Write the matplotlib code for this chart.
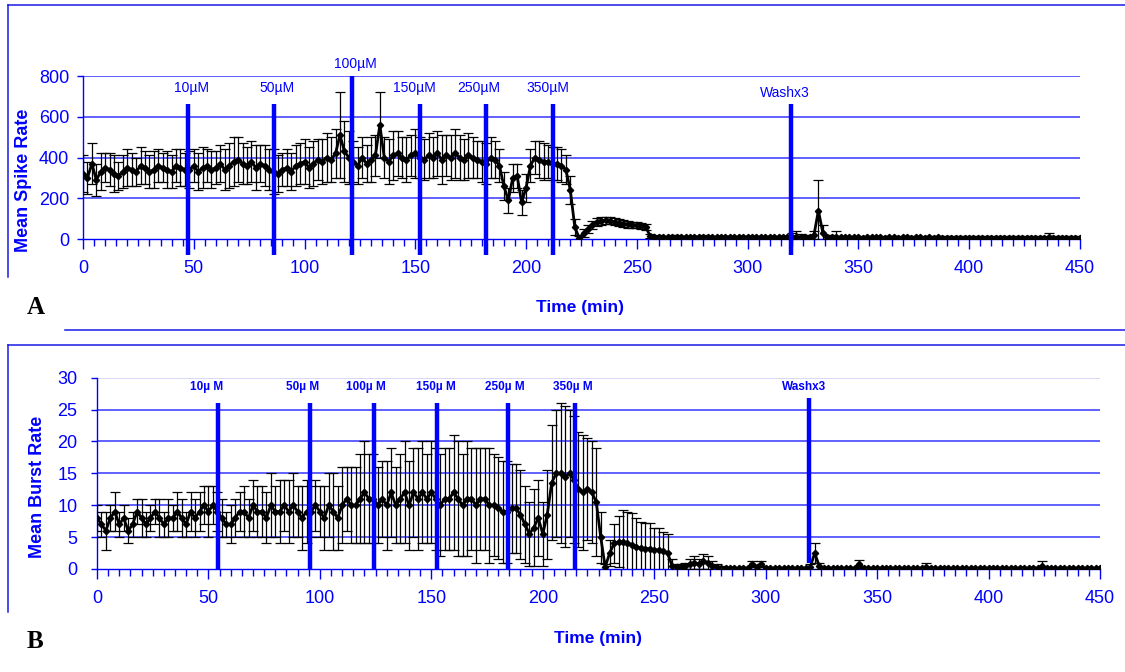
import numpy as np
import matplotlib.pyplot as plt
from matplotlib.lines import Line2D
from matplotlib.ticker import MultipleLocator

plt.rcParams['font.family'] = ['Liberation Sans', 'DejaVu Sans']

BLUE = '#0000ff'
GRID = '#3636ff'

# sampling every 2 min, 0..450
time = np.arange(0, 451, 2)

# mean spike rate (rows of 10 samples = 20 min)
spike_mean = [
    320, 300, 370, 290, 330, 350, 340, 320, 310, 330,
    350, 340, 330, 360, 350, 330, 340, 360, 350, 340,
    330, 360, 350, 340, 340, 360, 330, 350, 360, 340,
    350, 370, 340, 360, 380, 390, 370, 360, 380, 350,
    370, 360, 340, 330, 320, 340, 350, 330, 360, 370,
    380, 350, 370, 390, 380, 400, 390, 420, 510, 430,
    400, 380, 360, 400, 370, 390, 410, 560, 400, 380,
    410, 420, 400, 390, 410, 420, 400, 390, 410, 400,
    420, 390, 410, 400, 420, 400, 390, 410, 400, 390,
    380, 370, 400, 390, 360, 260, 190, 300, 310, 180,
    250, 360, 400, 390, 380, 380, 370, 370, 360, 340,
    240, 60, 5, 30, 50, 70, 85, 90, 92, 90,
    85, 80, 75, 72, 70, 68, 65, 60, 15, 10,
    12, 10, 8, 10, 12, 10, 10, 8, 10, 10,
    12, 10, 10, 8, 10, 10, 10, 8, 10, 10,
    10, 8, 10, 10, 8, 10, 10, 8, 10, 10,
    10, 12, 10, 8, 10, 20, 140, 30, 10, 8,
    12, 8, 8, 9, 8, 8, 7, 8, 8, 8,
    8, 7, 8, 8, 7, 8, 8, 7, 8, 8,
    7, 8, 7, 8, 6, 5, 5, 4, 5, 5,
    5, 4, 5, 5, 4, 5, 5, 4, 5, 5,
    5, 4, 5, 5, 6, 5, 5, 6, 8, 5,
    5, 6, 5, 5, 6, 5,
]
spike_err = [
    90, 80, 100, 80, 90, 70, 80, 90, 70, 80,
    90, 80, 70, 90, 80, 80, 90, 80, 70, 90,
    80, 80, 90, 80, 90, 80, 90, 100, 80, 90,
    80, 90, 100, 110, 120, 110, 100, 90, 100, 110,
    90, 100, 100, 110, 90, 80, 90, 90, 100, 100,
    110, 100, 110, 100, 110, 120, 110, 120, 210, 150,
    130, 100, 90, 100, 90, 110, 100, 160, 100, 110,
    120, 110, 100, 110, 100, 120, 100, 100, 110, 100,
    110, 120, 100, 110, 120, 110, 100, 110, 100, 90,
    100, 100, 100, 90, 80, 70, 60, 70, 60, 60,
    70, 80, 80, 90, 90, 80, 80, 80, 80, 70,
    70, 40, 10, 20, 20, 20, 20, 20, 18, 18,
    18, 16, 16, 16, 15, 15, 14, 14, 8, 6,
    6, 7, 6, 8, 6, 7, 6, 6, 7, 6,
    6, 7, 6, 6, 7, 6, 6, 6, 7, 6,
    6, 6, 7, 6, 6, 7, 6, 6, 7, 6,
    20, 25, 15, 10, 10, 20, 150, 40, 10, 10,
    25, 8, 8, 8, 8, 8, 8, 8, 8, 8,
    8, 8, 8, 8, 8, 8, 8, 8, 8, 8,
    8, 8, 8, 8, 10, 10, 10, 10, 10, 10,
    10, 10, 10, 10, 10, 10, 10, 10, 10, 10,
    10, 10, 10, 10, 10, 10, 10, 10, 20, 10,
    10, 10, 8, 8, 8, 8,
]

# mean burst rate
burst_mean = [
    8, 7, 6, 8, 9, 7, 8, 6, 7, 9,
    8, 7, 8, 9, 8, 7, 8, 8, 9, 8,
    7, 9, 8, 9, 10, 9, 10, 9, 8, 7,
    7, 8, 9, 9, 8, 10, 9, 9, 8, 10,
    9, 9, 10, 9, 10, 9, 8, 9, 9, 10,
    9, 8, 10, 9, 8, 10, 11, 10, 10, 11,
    12, 11, 11, 10, 11, 10, 12, 10, 11, 12,
    10, 12, 11, 12, 11, 12, 11, 10, 11, 11,
    12, 11, 10, 11, 11, 10, 11, 11, 10, 10,
    9.5, 9, 9, 9.5, 9.5, 8.5, 7, 5.5, 6.5, 8,
    5.5, 8.5, 13.5, 15, 15, 14.5, 15, 14, 12.5, 12,
    12.5, 12, 10.5, 5, 0.3, 2.5, 4, 4.3, 4.2, 4,
    3.8, 3.5, 3.3, 3.2, 3.2, 3.0, 3.0, 2.8, 2.5, 0.5,
    0.3, 0.3, 0.5, 0.8, 1.0, 0.8, 1.2, 1.0, 0.5, 0.3,
    0.2, 0.1, 0.1, 0.1, 0.1, 0.1, 0.1, 0.8, 0.3, 0.8,
    0.1, 0.1, 0.1, 0.1, 0.1, 0.1, 0.1, 0.1, 0.1, 0.1,
    0.3, 2.5, 0.5, 0.1, 0.1, 0.1, 0.1, 0.1, 0.1, 0.1,
    0.1, 0.8, 0.1, 0.1, 0.1, 0.1, 0.1, 0.1, 0.1, 0.1,
    0.1, 0.1, 0.1, 0.1, 0.1, 0.1, 0.3, 0.1, 0.1, 0.1,
    0.1, 0.1, 0.1, 0.1, 0.1, 0.1, 0.1, 0.1, 0.1, 0.1,
    0.1, 0.1, 0.1, 0.1, 0.1, 0.1, 0.1, 0.1, 0.1, 0.1,
    0.1, 0.1, 0.5, 0.1, 0.1, 0.1, 0.1, 0.1, 0.1, 0.1,
    0.1, 0.1, 0.1, 0.1, 0.1, 0.1,
]
burst_err = [
    2, 2, 3, 2, 3, 2, 2, 2, 2, 2,
    3, 2, 2, 2, 3, 2, 3, 2, 3, 3,
    2, 3, 3, 3, 3, 4, 3, 3, 3, 2,
    3, 3, 3, 4, 3, 4, 4, 4, 4, 5,
    4, 5, 4, 5, 5, 4, 5, 5, 4, 4,
    4, 5, 5, 6, 5, 6, 5, 6, 6, 7,
    8, 7, 7, 6, 6, 7, 7, 6, 7, 8,
    7, 7, 8, 8, 7, 8, 8, 8, 8, 8,
    9, 9, 8, 9, 8, 9, 8, 8, 9, 8,
    8, 8, 8, 7, 7, 7, 6, 5, 6, 6,
    5, 7, 9, 10, 11, 11, 10, 10, 9, 9,
    8, 8, 8.5, 4, 0.5, 2, 3, 4, 5, 5,
    5, 4.5, 4, 4, 4, 3.5, 3.5, 3, 3, 1,
    0.5, 0.5, 0.5, 0.8, 1.0, 0.8, 1.2, 1.0, 0.8, 0.5,
    0.3, 0.2, 0.2, 0.2, 0.2, 0.2, 0.2, 0.5, 0.3, 0.5,
    0.2, 0.2, 0.2, 0.2, 0.2, 0.2, 0.2, 0.2, 0.2, 0.2,
    0.5, 1.5, 0.5, 0.2, 0.2, 0.2, 0.2, 0.2, 0.2, 0.2,
    0.2, 0.6, 0.2, 0.2, 0.2, 0.2, 0.2, 0.2, 0.2, 0.2,
    0.2, 0.2, 0.2, 0.2, 0.2, 0.2, 0.7, 0.2, 0.2, 0.2,
    0.2, 0.2, 0.2, 0.2, 0.2, 0.2, 0.2, 0.2, 0.2, 0.2,
    0.2, 0.2, 0.2, 0.2, 0.2, 0.2, 0.2, 0.2, 0.2, 0.2,
    0.2, 0.2, 0.7, 0.2, 0.2, 0.2, 0.2, 0.2, 0.2, 0.2,
    0.2, 0.2, 0.2, 0.2, 0.2, 0.2,
]

# drug additions (min) and their labels
dose_labels_a = ['10µM', '50µM', '100µM', '150µM', '250µM', '350µM', 'Washx3']
dose_times_a = [47.5, 86, 121.5, 152, 182, 212, 319.5]
dose_labels_b = ['10µ M', '50µ M', '100µ M', '150µ M', '250µ M', '350µ M', 'Washx3']
dose_times_b = [54.5, 95.5, 124.5, 152.5, 184.5, 214.5, 319.5]

fig = plt.figure(figsize=(11.25, 6.72), dpi=100)
axA = fig.add_axes([0.0738, 0.6443, 0.886, 0.2426])
axB = fig.add_axes([0.0862, 0.1533, 0.8916, 0.2847])


def setup_axis(ax, ymax, ystep, ylab_pad):
    ax.set_xlim(0, 450)
    ax.set_ylim(0, ymax)
    ax.xaxis.set_major_locator(MultipleLocator(50))
    ax.xaxis.set_minor_locator(MultipleLocator(5))
    ax.yaxis.set_major_locator(MultipleLocator(ystep))
    for s in ['top', 'right']:
        ax.spines[s].set_visible(False)
    for s in ['left', 'bottom']:
        ax.spines[s].set_color(BLUE)
        ax.spines[s].set_linewidth(1.0)
    ax.tick_params(axis='x', which='major', length=7, width=1, color=BLUE,
                   labelcolor=BLUE, labelsize=13, pad=8)
    ax.tick_params(axis='x', which='minor', length=5, width=1, color=BLUE)
    ax.tick_params(axis='y', length=4, width=1, color=BLUE,
                   labelcolor=BLUE, labelsize=13, pad=ylab_pad)
    for y in np.arange(ystep, ymax + 1, ystep):
        ax.axhline(y, color=GRID, lw=1.1, zorder=0)


setup_axis(axA, 800, 200, 6)
setup_axis(axB, 30, 5, 10)
axB.axhline(30, color='#dcdcf8', lw=1.4, zorder=0)

ebar = dict(fmt='-D', color='black', ms=3.2, lw=2.0, elinewidth=0.9,
            capsize=3.5, capthick=0.9, zorder=3)
axA.errorbar(time, spike_mean, yerr=spike_err, **ebar)
axB.errorbar(time, burst_mean, yerr=burst_err, **ebar)

# panel A markers
label_x_a = [49, 87.4, 122.8, 149.5, 178.6, 209.7, 316.8]
for lab, t, lx in zip(dose_labels_a, dose_times_a, label_x_a):
    top = 800 if lab == '100µM' else 665
    axA.plot([t, t], [-80, top], color=BLUE, lw=3.2, clip_on=False,
             solid_capstyle='butt', zorder=5)
    ly = 860 if lab == '100µM' else 740
    if lab == 'Washx3':
        ly = 715
    axA.text(lx, ly, lab, ha='center', va='center', color=BLUE,
             fontsize=10, clip_on=False)

# panel B markers
label_x_b = [49.2, 92.3, 120.7, 152.1, 183.0, 213.4, 317.2]
for lab, t, lx in zip(dose_labels_b, dose_times_b, label_x_b):
    bottom, top = (1, 26.8) if lab == 'Washx3' else (0, 26)
    axB.plot([t, t], [bottom, top], color=BLUE, lw=3.2, clip_on=False,
             solid_capstyle='butt', zorder=5)
    axB.text(lx, 28.6, lab, ha='center', va='center', color=BLUE,
             fontsize=8.5, fontweight='bold', clip_on=False)

# axis titles
fig.text(580 / 1125, 1 - 308 / 672, 'Time (min)', ha='center', va='center',
         color=BLUE, fontsize=12.5, fontweight='bold')
fig.text(598 / 1125, 1 - 639 / 672, 'Time (min)', ha='center', va='center',
         color=BLUE, fontsize=12.5, fontweight='bold')
fig.text(24 / 1125, 1 - 180 / 672, 'Mean Spike Rate', ha='center', va='center',
         rotation=90, color=BLUE, fontsize=13, fontweight='bold')
fig.text(37 / 1125, 1 - 487 / 672, 'Mean Burst Rate', ha='center', va='center',
         rotation=90, color=BLUE, fontsize=13, fontweight='bold')

# panel letters
fig.text(36 / 1125, 1 - 307 / 672, 'A', ha='center', va='center',
         family='Liberation Serif', fontsize=18, fontweight='bold')
fig.text(35 / 1125, 1 - 641 / 672, 'B', ha='center', va='center',
         family='Liberation Serif', fontsize=18, fontweight='bold')


# frame lines around the panels (pixel coords)
def frame(x0, y0, x1, y1):
    fig.add_artist(Line2D([x0 / 1125, x1 / 1125], [1 - y0 / 672, 1 - y1 / 672],
                          color='#1a1ae6', lw=1.1))


frame(8, 5, 1125, 5)
frame(8, 5, 8, 277)
frame(65, 330, 1125, 330)
frame(8, 345, 1125, 345)
frame(8, 345, 8, 612)

fig.savefig('out.png', dpi=100)
